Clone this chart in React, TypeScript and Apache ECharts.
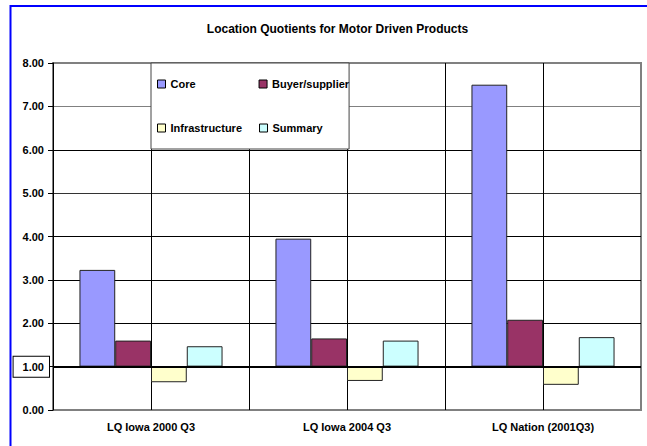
import React, { useEffect, useRef } from "react";
import * as echarts from "echarts";

const title = "Location Quotients for Motor Driven Products";
const categories = ["LQ Iowa 2000 Q3", "LQ Iowa 2004 Q3", "LQ Nation (2001Q3)"];
const seriesNames = ["Core", "Buyer/supplier", "Infrastructure", "Summary"];
const core = [3.23, 3.95, 7.5];
const buyerSupplier = [1.6, 1.65, 2.08];
const infrastructure = [0.64, 0.67, 0.58];
const summary = [1.47, 1.6, 1.68];
const yTicks = [0, 1, 2, 3, 4, 5, 6, 7, 8];
const baseline = 1;

const colors = ["#9999FF", "#993366", "#FFFFCC", "#CCFFFF"];
const FONT = "'Liberation Sans', Arial, sans-serif";

export default function App() {
  const ref = useRef<HTMLDivElement>(null);
  useEffect(() => {
    if (!ref.current) return;
    const chart = echarts.init(ref.current, null, { renderer: "svg" });
    const values = [core, buyerSupplier, infrastructure, summary];
    const series: any[] = [];
    values.forEach((vals, i) => {
      const stack = "s" + i;
      series.push({
        type: "bar",
        name: "_base" + i,
        stack,
        silent: true,
        xAxisIndex: 0,
        data: vals.map((v) => Math.min(v, baseline)),
        itemStyle: { color: "rgba(0,0,0,0)", borderWidth: 0 },
        barGap: "0%",
        barCategoryGap: "27%",
      });
      const s: any = {
        type: "bar",
        name: seriesNames[i],
        stack,
        xAxisIndex: 0,
        data: vals.map((v) => Math.abs(v - baseline)),
        itemStyle: { color: colors[i], borderColor: "#222", borderWidth: 1 },
        barGap: "0%",
        barCategoryGap: "27%",
      };
      if (i === 0) {
        s.markLine = {
          silent: true,
          symbol: "none",
          label: { show: false },
          lineStyle: { color: "#000", width: 2, type: "solid" },
          data: [{ yAxis: baseline }],
          z: 10,
        };
      }
      series.push(s);
    });

    const legendCommon = {
      icon: "rect",
      itemWidth: 8,
      itemHeight: 8,
      selectedMode: false,
      itemStyle: { borderColor: "#000", borderWidth: 1 },
      textStyle: { fontFamily: FONT, fontSize: 11, fontWeight: "bold", color: "#000" },
    };

    chart.setOption({
      animation: false,
      backgroundColor: "#fff",
      grid: {
        left: 53,
        right: 6,
        top: 63,
        bottom: 36,
        show: true,
        borderColor: "#808080",
        borderWidth: 2,
      },
      legend: [
        {
          ...legendCommon,
          data: ["Core", "Buyer/supplier"],
          left: 151,
          top: 63,
          itemGap: 63,
          z: 60,
          padding: [15.5, 0, 59.5, 6],
          backgroundColor: "#fff",
          borderColor: "#444",
          borderWidth: 1,
        },
        {
          ...legendCommon,
          data: ["Infrastructure", "Summary"],
          left: 157,
          top: 122.5,
          itemGap: 17,
          z: 61,
          padding: 0,
        },
      ],
      graphic: [
        {
          type: "rect",
          z: 100,
          shape: { x: 10.5, y: 6, width: 800, height: 600 },
          style: { fill: "none", stroke: "#0000FF", lineWidth: 2 },
        },
        {
          type: "text",
          z: 100,
          x: 337.5,
          y: 28.5,
          style: {
            text: title,
            fontFamily: FONT,
            fontSize: 12,
            fontWeight: "bold",
            fill: "#000",
            textAlign: "center",
            textVerticalAlign: "middle",
          },
        },
      ],
      xAxis: [
        {
          type: "category",
          data: categories,
          axisLine: { show: false },
          axisTick: { show: false },
          splitLine: { show: false },
          axisLabel: {
            margin: 11,
            fontFamily: FONT,
            fontSize: 11,
            fontWeight: "bold",
            color: "#000",
          },
        },
        {
          type: "value",
          min: 0,
          max: 6,
          interval: 1,
          position: "top",
          axisLine: { show: false },
          axisTick: { show: false },
          axisLabel: { show: false },
          splitLine: {
            show: true,
            lineStyle: {
              color: ["#000", "#000", "#000", "#000", "#000", "#000", "#808080"],
              width: 1,
            },
          },
        },
      ],
      yAxis: {
        type: "value",
        min: yTicks[0],
        max: yTicks[yTicks.length - 1],
        interval: 1,
        axisLine: { show: true, lineStyle: { color: "#000", width: 1 } },
        axisTick: { show: true, length: 5, lineStyle: { color: "#000" } },
        splitLine: {
          show: true,
          lineStyle: {
            color: ["#808080", "#000", "#000", "#000", "#000", "#333", "#000", "#808080", "#808080"],
            width: 1,
          },
        },
        axisLabel: {
          margin: 4,
          formatter: (v: number) =>
            v === baseline ? "{b|" + v.toFixed(2) + "}" : "{n|" + v.toFixed(2) + "}",
          rich: {
            n: {
              fontFamily: FONT,
              fontSize: 11,
              fontWeight: "bold",
              color: "#000",
              padding: [0, 5, 0, 0],
            },
            b: {
              fontFamily: FONT,
              fontSize: 11,
              fontWeight: "bold",
              color: "#000",
              padding: [5, 5, 4, 9],
              borderColor: "#000",
              borderWidth: 1,
              backgroundColor: "#fff",
            },
          },
        },
      },
      series,
    });
    return () => chart.dispose();
  }, []);
  return (
    <div
      ref={ref}
      style={{ position: "fixed", left: 0, top: 0, width: 647, height: 446 }}
    />
  );
}
